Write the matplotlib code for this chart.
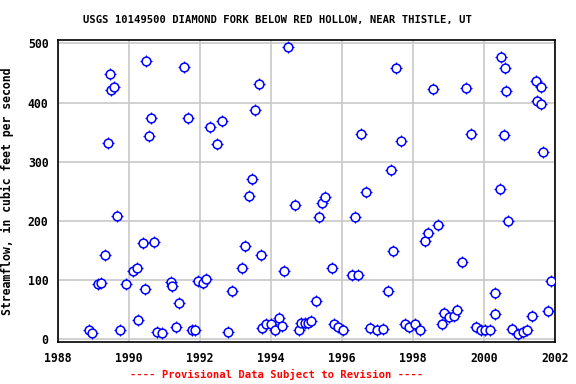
import matplotlib
matplotlib.use("Agg")
import matplotlib.pyplot as plt

# decimal year of each measurement and streamflow (cfs)
years = [
    1988.87, 1988.94, 1989.12, 1989.22, 1989.33, 1989.41, 1989.47, 1989.50, 1989.58,
    1989.67, 1989.75, 1989.92, 1990.12, 1990.23, 1990.26, 1990.40, 1990.45, 1990.49,
    1990.57, 1990.63, 1990.71, 1990.79, 1990.92, 1991.17, 1991.20, 1991.31, 1991.41,
    1991.55, 1991.65, 1991.78, 1991.86, 1991.95, 1992.07, 1992.16, 1992.27, 1992.47,
    1992.61, 1992.78, 1992.89, 1993.18, 1993.27, 1993.37, 1993.46, 1993.56, 1993.66,
    1993.71, 1993.76, 1993.86, 1993.99, 1994.11, 1994.22, 1994.31, 1994.37, 1994.48,
    1994.68, 1994.79, 1994.86, 1994.95, 1995.04, 1995.12, 1995.26, 1995.36, 1995.44,
    1995.52, 1995.72, 1995.77, 1995.88, 1996.03, 1996.28, 1996.37, 1996.44, 1996.54,
    1996.69, 1996.79, 1997.00, 1997.17, 1997.31, 1997.38, 1997.45, 1997.53, 1997.67,
    1997.79, 1997.90, 1998.07, 1998.21, 1998.33, 1998.44, 1998.58, 1998.72, 1998.81,
    1998.88, 1999.02, 1999.17, 1999.25, 1999.40, 1999.51, 1999.65, 1999.79, 1999.91,
    2000.04, 2000.19, 2000.31, 2000.33, 2000.45, 2000.48, 2000.56, 2000.60, 2000.62,
    2000.67, 2000.79, 2000.96, 2001.10, 2001.22, 2001.35, 2001.47, 2001.49, 2001.61,
    2001.62, 2001.67, 2001.80, 2001.89,
]
flow = [
    14, 10, 92, 95, 142, 332, 449, 422, 427,
    208, 15, 93, 115, 119, 32, 162, 84, 471,
    344, 374, 164, 12, 10, 96, 89, 20, 61,
    460, 374, 15, 15, 98, 94, 101, 359, 330,
    369, 12, 80, 120, 157, 242, 271, 388, 432,
    142, 18, 25, 24, 14, 35, 22, 115, 494,
    227, 14, 27, 27, 27, 29, 64, 206, 230,
    240, 120, 25, 19, 15, 108, 206, 107, 347,
    249, 18, 15, 17, 80, 286, 149, 459, 335,
    25, 20, 24, 15, 166, 179, 423, 193, 25,
    44, 37, 39, 49, 130, 425, 347, 19, 15,
    14, 15, 41, 78, 254, 477, 345, 459, 420,
    200, 16, 7, 12, 14, 39, 437, 403, 427,
    398, 316, 46, 98,
]

mono = "DejaVu Sans Mono"

fig = plt.figure(figsize=(5.76, 3.84), dpi=100)
ax = fig.add_axes([0.101, 0.109, 0.862, 0.787])

ax.plot(years, flow, linestyle="none", marker="+", markersize=9,
        markeredgewidth=0.9, color="blue", zorder=3)
ax.plot(years, flow, linestyle="none", marker="o", markersize=6.3,
        markerfacecolor="white", markeredgecolor="blue", markeredgewidth=1.1, zorder=4)

ax.set_xlim(1988, 2002)
ax.set_ylim(-6, 506)
ax.set_xticks(range(1988, 2003, 2))
ax.set_yticks(range(0, 501, 100))
ax.grid(True, color="#c8c8c8", linewidth=1.2)
ax.set_axisbelow(True)
for s in ax.spines.values():
    s.set_linewidth(1.2)
ax.tick_params(length=0, pad=7, labelsize=8.3)
for lab in ax.get_xticklabels() + ax.get_yticklabels():
    lab.set_family(mono)
    lab.set_weight("bold")

fig.text(0.482, 0.947, "USGS 10149500 DIAMOND FORK BELOW RED HOLLOW, NEAR THISTLE, UT",
         fontsize=7.6, family=mono, weight="bold", ha="center", va="center")
ax.set_ylabel("Streamflow, in cubic feet per second", fontsize=8.3,
              family=mono, weight="bold", labelpad=10)
fig.text(0.481, 0.015, "---- Provisional Data Subject to Revision ----",
         color="red", fontsize=7.6, family=mono, weight="bold", ha="center")

fig.savefig("out.png", dpi=100)
